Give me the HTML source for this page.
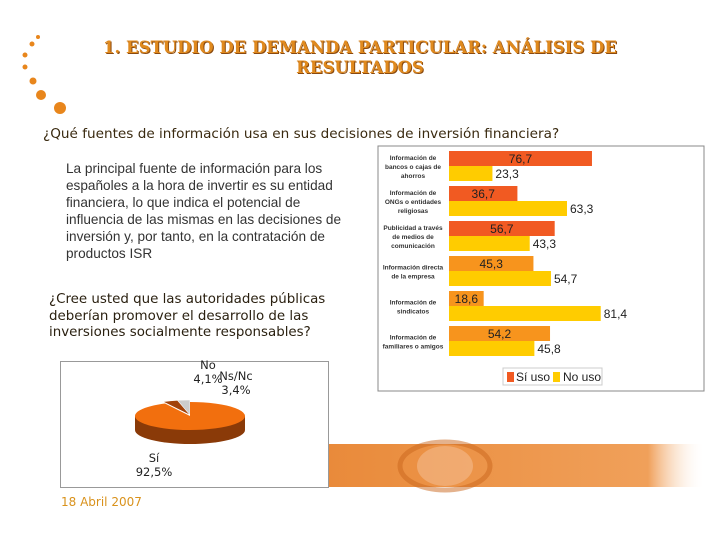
<!DOCTYPE html>
<html><head><meta charset="utf-8">
<style>
body{margin:0;width:720px;height:540px;background:#fff;position:relative;overflow:hidden;font-family:"DejaVu Sans","Liberation Sans",sans-serif;}
.abs{position:absolute;}
</style></head>
<body>
<svg class="abs" style="left:0;top:0" width="720" height="540">
  <defs>
    <linearGradient id="band" x1="0" x2="1" y1="0" y2="0">
      <stop offset="0" stop-color="#e98a3a"/>
      <stop offset="0.85" stop-color="#f0a05a"/>
      <stop offset="1" stop-color="#fff" stop-opacity="0"/>
    </linearGradient>
  </defs>
  <g fill="#e8861c">
    <circle cx="38" cy="37" r="2"/><circle cx="32" cy="44" r="2.5"/><circle cx="25" cy="55" r="2.5"/>
    <circle cx="25" cy="67" r="2.5"/><circle cx="33" cy="81" r="3.5"/><circle cx="41" cy="95" r="5"/><circle cx="60" cy="108" r="6"/>
  </g>
  <rect x="325" y="444" width="380" height="43" fill="url(#band)"/>
  <ellipse cx="445" cy="466" rx="45" ry="24" fill="none" stroke="#c9651c" stroke-width="5" opacity="0.5"/>
  <ellipse cx="445" cy="466" rx="28" ry="20" fill="#f6c199" opacity="0.5"/>
</svg>
<div class="abs" style="left:60px;top:38px;width:600px;text-align:center;font-family:'DejaVu Serif','Liberation Serif',serif;font-weight:bold;font-size:16.5px;line-height:20px;color:#e08a1e;text-shadow:1px 1px 0 #8a4a10;">1. ESTUDIO DE DEMANDA PARTICULAR: ANÁLISIS DE RESULTADOS</div>
<div class="abs" style="left:43px;top:126px;font-size:13.6px;color:#3a2a10;white-space:nowrap;">¿Qué fuentes de información usa en sus decisiones de inversión financiera?</div>
<div class="abs" style="left:66px;top:160px;width:285px;font-family:'Liberation Sans',sans-serif;font-size:13.6px;line-height:17px;color:#333;">La principal fuente de información para los españoles a la hora de invertir es su entidad financiera, lo que indica el potencial de influencia de las mismas en las decisiones de inversión y, por tanto, en la contratación de productos ISR</div>
<div class="abs" style="left:49px;top:292px;width:300px;font-size:13.4px;line-height:16.5px;color:#2a2010;">¿Cree usted que las autoridades públicas deberían promover el desarrollo de las inversiones socialmente responsables?</div>

<svg class="abs" style="left:0;top:0" width="720" height="540" id="bar"></svg>

<div class="abs" style="left:60px;top:361px;width:267px;height:125px;border:1px solid #999;background:#fff;"></div>
<svg class="abs" style="left:0;top:0" width="720" height="540" id="pie"></svg>
<div class="abs" style="left:61px;top:495px;font-size:12px;color:#d9921c;">18 Abril 2007</div>

<script>
const categories=[["Información de","bancos o cajas de","ahorros"],["Información de","ONGs o entidades","religiosas"],["Publicidad a través","de medios de","comunicación"],["Información directa","de la empresa"],["Información de","sindicatos"],["Información de","familiares o amigos"]];
const siUso=[76.7,36.7,56.7,45.3,18.6,54.2];
const noUso=[23.3,63.3,43.3,54.7,81.4,45.8];
const pieLabels=["Sí","No","Ns/Nc"];
const pieValues=[92.5,4.1,3.4];

const NS="http://www.w3.org/2000/svg";
function mk(p,t,a){const e=document.createElementNS(NS,t);for(const k in a)e.setAttribute(k,a[k]);p.appendChild(e);return e;}
const svg=document.getElementById('bar');
const box=mk(svg,'rect',{x:378,y:146,width:326,height:245,fill:'#fff',stroke:'#888','stroke-width':1});


const x0=449,sc=1.864;
const xs=v=>x0+v*sc;
const top0=151,pitch=35,bh=15;
const fmt=v=>v.toFixed(1).replace('.',',');
categories.forEach((c,i)=>{
  const y=top0+i*pitch;
  const oc=i<3?'#f15a22':'#f7941d';
  const b1=mk(svg,'rect',{x:x0,y:y,width:xs(siUso[i])-x0,height:bh,fill:oc});
  
  
  const b2=mk(svg,'rect',{x:x0,y:y+bh,width:xs(noUso[i])-x0,height:bh,fill:'#ffcc00'});
  
  
  const t1=mk(svg,'text',{x:x0+(xs(siUso[i])-x0)/2,y:y+12,'text-anchor':'middle','font-size':12,fill:'#222','font-family':'Liberation Sans,sans-serif'});
  t1.textContent=fmt(siUso[i]);
  
  
  const t2=mk(svg,'text',{x:xs(noUso[i])+3,y:y+bh+12,'font-size':12,fill:'#222','font-family':'Liberation Sans,sans-serif'});
  t2.textContent=fmt(noUso[i]);
  
  
  const n=c.length,cy=y+bh-(n-1)*4.5+3;
  c.forEach((l,j)=>{
    const tl=mk(svg,'text',{x:413,y:cy+j*9,'text-anchor':'middle','font-size':6.5,'font-weight':'bold',fill:'#333','font-family':'Liberation Sans,sans-serif'});
    tl.textContent=l;
    
    
  });
});
const lg=mk(svg,'g',{});


mk(lg,'rect',{x:503,y:368,width:99,height:17,fill:'#fff',stroke:'#ccc'});
mk(lg,'rect',{x:507,y:372,width:7,height:10,fill:'#f15a22'});
const l1=mk(lg,'text',{x:516,y:381,'font-size':12,fill:'#222','font-family':'Liberation Sans,sans-serif'});l1.textContent='Sí uso';
mk(lg,'rect',{x:553,y:372,width:7,height:10,fill:'#ffcc00'});
const l2=mk(lg,'text',{x:563,y:381,'font-size':12,fill:'#222','font-family':'Liberation Sans,sans-serif'});l2.textContent='No uso';

// pie
const ps=document.getElementById('pie');
const cx=190,cy=416,rx=55,ry=14,d=14;
const tot=pieValues.reduce((a,b)=>a+b,0);
const colors=['#f26f0e','#a2420a','#cccccc'];
const side=mk(ps,'path',{d:`M${cx-rx},${cy} L${cx-rx},${cy+d} A${rx},${ry} 0 0 0 ${cx+rx},${cy+d} L${cx+rx},${cy} Z`,fill:'#8a3a08'});


let a=-Math.PI/2;
pieValues.forEach((v,i)=>{
  const sa=a,ea=a+v/tot*2*Math.PI;a=ea;
  const off=i>0?3:0,ma=(sa+ea)/2;
  const ox=cx+off*Math.cos(ma),oy=cy+off*Math.sin(ma)*0.6;
  const p1=[ox+rx*Math.cos(sa),oy+ry*Math.sin(sa)],p2=[ox+rx*Math.cos(ea),oy+ry*Math.sin(ea)];
  const large=(ea-sa)>Math.PI?1:0;
  const s=mk(ps,'path',{d:`M${ox},${oy} L${p1[0]},${p1[1]} A${rx},${ry} 0 ${large} 1 ${p2[0]},${p2[1]} Z`,fill:colors[i]});
  
  
});
const pl=[[154,462,'Sí'],[208,369,'No'],[236,380,'Ns/Nc']];
pl.forEach((p,i)=>{
  const t=mk(ps,'text',{x:p[0],y:p[1],'text-anchor':'middle','font-size':11.5,fill:'#222','font-family':'DejaVu Sans,sans-serif'});
  t.textContent=pieLabels[i];
  
  
  const t2=mk(ps,'text',{x:p[0],y:p[1]+14,'text-anchor':'middle','font-size':11.5,fill:'#222','font-family':'DejaVu Sans,sans-serif'});
  t2.textContent=fmt(pieValues[i])+'%';
  
  
});
</script>
</body></html>
